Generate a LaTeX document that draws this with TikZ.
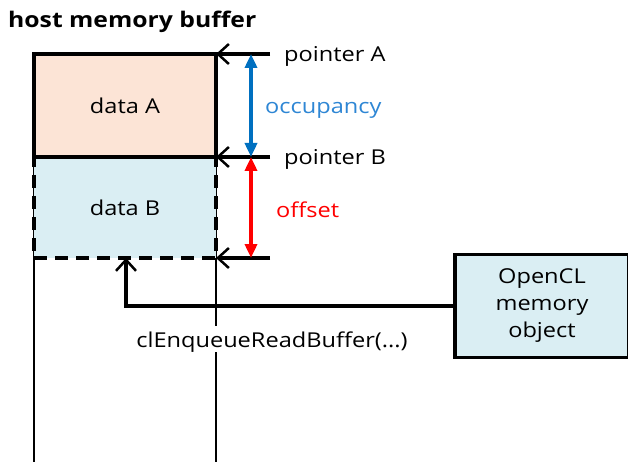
\documentclass[tikz,border=0pt]{standalone}
\usepackage{fontspec}
\setmainfont[FakeStretch=1.15]{Open Sans}
\usetikzlibrary{arrows.meta}
\definecolor{peach}{HTML}{FCE4D6}
\definecolor{lblue}{HTML}{DAEEF3}
\definecolor{dblue}{HTML}{0070C0}
\definecolor{occ}{HTML}{2E86D4}
\begin{document}
\begin{tikzpicture}[x=1pt,y=-1pt,
  thin line/.style={line width=1.3pt},
  barb/.style={-{Straight Barb[length=11pt,width=20pt,line width=2.5pt]}},
  ptr/.style={line width=3.5pt,barb},
  dim/.style={line width=3.5pt,{Triangle[length=14pt,width=12pt]}-{Triangle[length=14pt,width=12pt]}},
  lbl/.style={font=\fontsize{20.5}{26}\selectfont,inner sep=1pt,text height=18pt,text depth=2pt},
  box/.style={draw,line width=3.5pt,inner sep=0pt,outer sep=0pt,font=\fontsize{20.5}{26}\selectfont}]
\useasboundingbox (0,0) rectangle (628,462);
% thin guide lines
\coordinate (tl) at (34,54);
\coordinate (tr) at (216,54);
\coordinate (bl) at (34,462);
\coordinate (br) at (216,462);
\draw[thin line] (tl) -- (bl);
\draw[thin line] (tr) -- (br);
% boxes
\node[box,fill=lblue,dash pattern=on 13pt off 8pt,minimum width=182pt,minimum height=101pt,anchor=north west,text height=18pt,text depth=2pt] (B) at (34,157) {data B};
\node[box,fill=peach,minimum width=182pt,minimum height=103pt,anchor=north west,text height=18pt,text depth=2pt] (A) at (34,54) {data A};
% pointers
\coordinate (pa) at (270,54);
\coordinate (pb) at (270,157);
\coordinate (pc) at (270,258);
\draw[ptr] (pa) -- (A.north east);
\draw[ptr] (pb) -- (A.south east);
\draw[ptr] (pc) -- (B.south east);
\node[lbl,anchor=west] (tA) at (283,54) {pointer A};
\node[lbl,anchor=west] (tB) at (283,157) {pointer B};
% dimension arrows
\coordinate (d1) at (251,54);
\coordinate (d2) at (251,157);
\coordinate (d3) at (251,258);
\draw[dim,dblue] (d1) -- (d2);
\draw[dim,red] (d2) -- (d3);
\node[lbl,anchor=west,text=occ] (occ) at (264,106) {occupancy};
\node[lbl,anchor=west,text=red] (off) at (275,210) {offset};
% OpenCL object
\node[box,fill=lblue,minimum width=174pt,minimum height=103pt,anchor=west,align=center,font=\fontsize{20.5}{27}\selectfont] (cl) at (455,306) {\rule{0pt}{8pt}OpenCL\\memory\\object};
\coordinate (bend) at (126,306);
\coordinate (tgt) at (126,258);
\draw[line width=3.5pt,barb] (cl.west) -- (bend) -- (tgt);
\node[lbl,fill=white,inner sep=3pt] (call) at (272,339) {clEnqueueReadBuffer(...)};
% title
\node[anchor=base west,font=\bfseries\fontsize{21.5}{24}\selectfont,inner sep=0pt] (title) at (8,28) {host memory buffer};
\end{tikzpicture}
\end{document}
